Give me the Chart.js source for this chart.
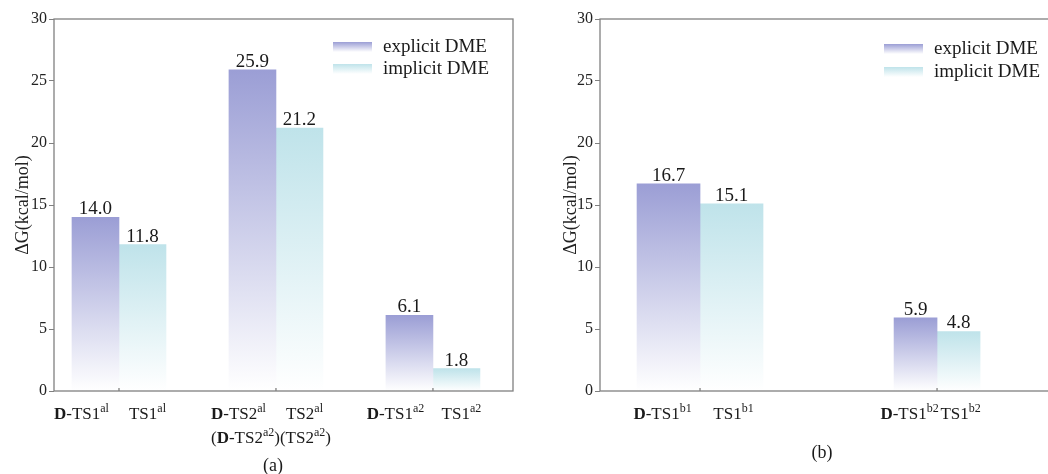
<!DOCTYPE html>
<html>
<head>
<meta charset="utf-8">
<script src="https://cdn.jsdelivr.net/npm/chart.js@4"></script>
<style>
  html, body { margin: 0; padding: 0; background: #fff; overflow: hidden; }
  #wrap { position: relative; width: 1048px; height: 474px; overflow: hidden; }
  .box { position: absolute; top: 0; height: 474px; }
  #boxA { left: 0; width: 524px; }
  #boxB { left: 524px; width: 560px; }
</style>
</head>
<body>
<div id="wrap">
  <div class="box" id="boxA"><canvas id="chartA"></canvas></div>
  <div class="box" id="boxB"><canvas id="chartB"></canvas></div>
</div>
<script>
// DATA
const seriesNames = ["explicit DME", "implicit DME"];
const yTicks = [0, 5, 10, 15, 20, 25, 30];
const yTitle = "ΔG(kcal/mol)";

// panel (a)
const groupsA = [1, 2, 3];
const explicitA = [14.0, 25.9, 6.1];
const implicitA = [11.8, 21.2, 1.8];
// *x* = bold, ^x^ = superscript
const explicitLabelsA = ["*D*-TS1^al^", "*D*-TS2^al^", "*D*-TS1^a2^"];
const implicitLabelsA = ["TS1^al^", "TS2^al^", "TS1^a2^"];
const secondRowA = ["", "(*D*-TS2^a2^)(TS2^a2^)", ""];

// panel (b)
const groupsB = [1, 2];
const explicitB = [16.7, 5.9];
const implicitB = [15.1, 4.8];
const explicitLabelsB = ["*D*-TS1^b1^", "*D*-TS1^b2^"];
const implicitLabelsB = ["TS1^b1^", "TS1^b2^"];
const secondRowB = ["", ""];

const COL_EXP = "#9b9ed5";
const COL_IMP = "#bfe3ea";
const FONT = "'Liberation Serif', 'Times New Roman', serif";

// gradient from bar top to white at the base
function barFill(color) {
    return (c) => {
        if (c.type !== "data" || !c.parsed) return color;
        const ys = c.chart.scales.y;
        if (!ys) return color;
        const top = ys.getPixelForValue(c.parsed.y);
        const bot = ys.getPixelForValue(0);
        if (!isFinite(top) || !isFinite(bot) || top === bot) return color;
        const g = c.chart.ctx.createLinearGradient(0, top, 0, bot);
        g.addColorStop(0, color);
        g.addColorStop(1, "#ffffff");
        return g;
    };
}

// RICH TEXT
function parseRich(s) {
    const out = [];
    let mode = "", buf = "";
    for (const ch of s) {
        if (ch === "*" || ch === "^") {
            if (buf) out.push({ t: buf, m: mode });
            buf = "";
            mode = (mode === ch) ? "" : ch;
        } else buf += ch;
    }
    if (buf) out.push({ t: buf, m: mode });
    return out;
}

function segFont(m, size) {
    if (m === "*") return "bold " + size + "px " + FONT;
    if (m === "^") return Math.round(size * 0.68) + "px " + FONT;
    return size + "px " + FONT;
}

function drawRich(ctx, s, cx, y, size) {
    const segs = parseRich(s);
    let total = 0;
    segs.forEach(sg => {
        ctx.font = segFont(sg.m, size);
        sg.w = ctx.measureText(sg.t).width;
        total += sg.w;
    });
    let x = cx - total / 2;
    ctx.textAlign = "left";
    ctx.textBaseline = "alphabetic";
    segs.forEach(sg => {
        ctx.font = segFont(sg.m, size);
        ctx.fillText(sg.t, x, sg.m === "^" ? y - size * 0.4 : y);
        x += sg.w;
    });
}

// PLUGIN: frame, values, x labels, legend, caption
const decor = {
    id: "decor",
    afterDatasetsDraw(chart, args, o) {
        const ctx = chart.ctx;
        const a = chart.chartArea;
        const xs = chart.scales.x;
        ctx.save();

        // frame
        ctx.strokeStyle = "#808080";
        ctx.lineWidth = 1.3;
        ctx.strokeRect(a.left, a.top, a.right - a.left, a.bottom - a.top);

        // small ticks at group centres
        o.groups.forEach(g => {
            const px = xs.getPixelForValue(g);
            ctx.beginPath();
            ctx.moveTo(px, a.bottom);
            ctx.lineTo(px, a.bottom - 3);
            ctx.stroke();
        });

        // values on top of bars
        ctx.fillStyle = "#1a1a1a";
        ctx.font = "19px " + FONT;
        ctx.textAlign = "center";
        ctx.textBaseline = "alphabetic";
        chart.data.datasets.forEach((ds, i) => {
            const el = chart.getDatasetMeta(i).data[0];
            ctx.fillText(ds.data[0].y.toFixed(1), el.x, el.y - 3);
        });

        // category labels under the bars
        chart.data.datasets.forEach((ds, i) => {
            const el = chart.getDatasetMeta(i).data[0];
            const shift = ds.series === 0 ? o.shift[0] : o.shift[1];
            drawRich(ctx, ds.catLabel, el.x + shift, o.rowY[0], 17);
        });
        o.secondRow.forEach((t, i) => {
            if (!t) return;
            drawRich(ctx, t, xs.getPixelForValue(o.groups[i]) - 5, o.rowY[1], 17);
        });

        // legend
        [COL_EXP, COL_IMP].forEach((col, i) => {
            const sx = o.legend.x, sy = o.legend.y[i];
            const g = ctx.createLinearGradient(0, sy, 0, sy + 10);
            g.addColorStop(0, col);
            g.addColorStop(1, "#ffffff");
            ctx.fillStyle = g;
            ctx.fillRect(sx, sy, 39, 10);
            ctx.fillStyle = "#1a1a1a";
            ctx.font = "19px " + FONT;
            ctx.textAlign = "left";
            ctx.textBaseline = "middle";
            ctx.fillText(seriesNames[i], sx + 50, sy + 5);
        });

        // caption
        ctx.font = "18px " + FONT;
        ctx.textAlign = "center";
        ctx.textBaseline = "alphabetic";
        ctx.fillText(o.caption.text, o.caption.x, o.caption.y);
        ctx.restore();
    }
};

function makeChart(id, p) {
    const datasets = [];
    p.groups.forEach((g, i) => {
        datasets.push({
            label: seriesNames[0], series: 0, catLabel: p.expLabels[i],
            data: [{ x: g, y: p.explicit[i] }],
            barThickness: p.widths[i],
            backgroundColor: barFill(COL_EXP)
        });
        datasets.push({
            label: seriesNames[1], series: 1, catLabel: p.impLabels[i],
            data: [{ x: g, y: p.implicit[i] }],
            barThickness: p.widths[i],
            backgroundColor: barFill(COL_IMP)
        });
    });

    return new Chart(document.getElementById(id), {
        type: "bar",
        data: { datasets: datasets },
        options: {
            responsive: true,
            maintainAspectRatio: false,
            animation: false,
            skipNull: true,
            layout: { padding: { top: 19, right: p.padRight, bottom: 0, left: 0 } },
            plugins: {
                legend: { display: false },
                tooltip: { enabled: false },
                decor: {
                    groups: p.groups,
                    shift: p.shift,
                    rowY: [419, 443],
                    secondRow: p.secondRow,
                    legend: p.legend,
                    caption: p.caption
                }
            },
            scales: {
                x: {
                    type: "linear",
                    offset: false,
                    min: p.xMin,
                    max: p.xMax,
                    grid: { display: false, offset: false },
                    border: { display: false },
                    ticks: { display: false },
                    afterFit: s => { s.height = 83; }
                },
                y: {
                    min: 0,
                    max: 30,
                    afterBuildTicks: s => { s.ticks = yTicks.map(v => ({ value: v })); },
                    ticks: { font: { family: FONT, size: 16 }, color: "#222", padding: 2 },
                    grid: { drawOnChartArea: false, drawTicks: true, tickLength: 5, color: "#808080" },
                    border: { display: false },
                    title: {
                        display: true,
                        text: yTitle,
                        color: "#222",
                        font: { family: FONT, size: 18 },
                        padding: { top: p.titlePad, bottom: 0 }
                    },
                    afterFit: s => { s.width = p.yWidth; }
                }
            }
        },
        plugins: [decor]
    });
}

makeChart("chartA", {
    groups: groupsA, explicit: explicitA, implicit: implicitA,
    expLabels: explicitLabelsA, impLabels: implicitLabelsA, secondRow: secondRowA,
    widths: [47, 47, 47],
    xMin: 0.586, xMax: 3.51, padRight: 11, yWidth: 54, titlePad: 12,
    shift: [-14, 5],
    legend: { x: 333, y: [42, 64] },
    caption: { text: "(a)", x: 273, y: 471 }
});

makeChart("chartB", {
    groups: groupsB, explicit: explicitB, implicit: implicitB,
    expLabels: explicitLabelsB, impLabels: implicitLabelsB, secondRow: secondRowB,
    widths: [63, 43],
    xMin: 0.578, xMax: 2.62, padRight: 0, yWidth: 76, titlePad: 36,
    shift: [-6, 2],
    legend: { x: 360, y: [44, 67] },
    caption: { text: "(b)", x: 298, y: 458 }
});
</script>
</body>
</html>
